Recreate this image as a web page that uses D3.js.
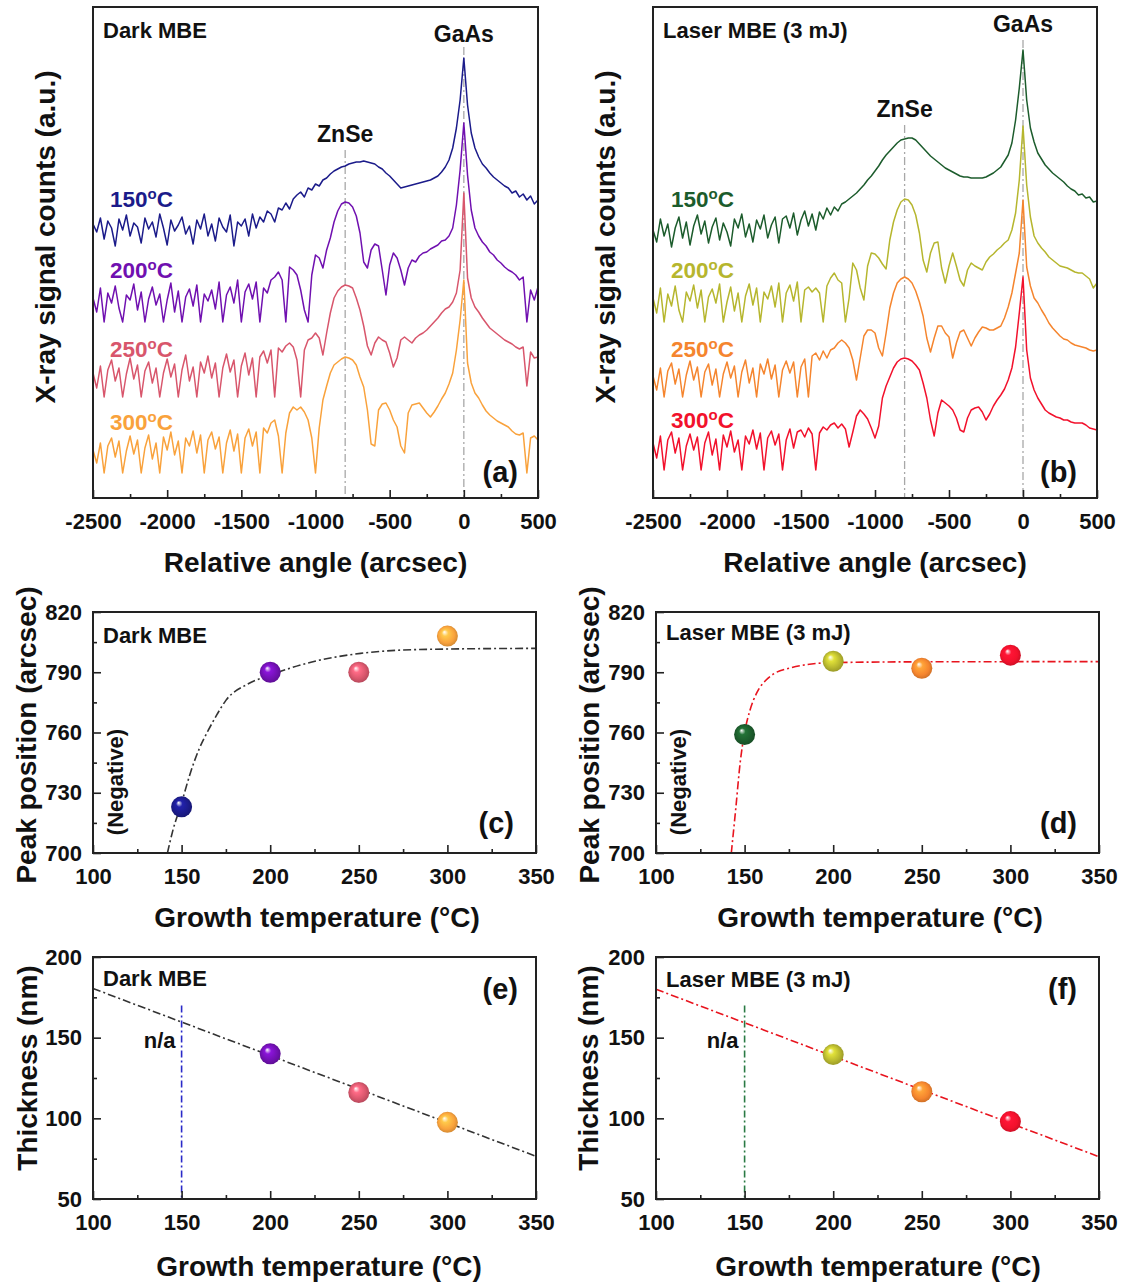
<!DOCTYPE html>
<html>
<head>
<meta charset="utf-8">
<script src="https://cdn.jsdelivr.net/npm/d3@7"></script>
<style>
  body { margin: 0; background: #fff; }
  svg text { font-family: "Liberation Sans", Arial, sans-serif; font-weight: bold; }
</style>
</head>
<body>
<svg id="fig" width="1126" height="1284"></svg>
<script>
'use strict';

// ============================================================
//  XRD rocking curves (a,b), ZnSe peak position (c,d) and
//  film thickness (e,f) for dark vs laser-assisted MBE.
// ============================================================

// ── Data ────────────────────────────────────────────────────
// rocking curves sampled every 25 arcsec, -2500 … 500 (a.u., offset stacked)
const ANGLE_GRID = d3.range(-2500, 501, 25);
const ANGLE_TICKS = [-2500, -2000, -1500, -1000, -500, 0, 500];
const ANGLE_MINOR = [-2250, -1750, -1250, -750, -250, 250];
const ZNSE_ANGLE = -800;
const GAAS_ANGLE = 0;

const TEMP_LABELS = ['150', '200', '250', '300'];

const DARK_150 = [
  274, 266, 280, 259, 277, 270, 252, 279,
  268, 283, 262, 275, 271, 255, 280, 269,
  276, 261, 284, 270, 253, 278, 267, 273,
  281, 264, 272, 254, 278, 269, 284, 262,
  274, 257, 280, 271, 266, 283, 252, 276,
  272, 279, 262, 284, 270, 281, 276, 287,
  284, 276, 290, 288, 295, 289, 299, 303,
  306, 301, 310, 308, 314, 312, 318, 320,
  324, 327, 329, 331, 332, 334, 335, 336,
  336, 337, 336, 335, 334, 331, 329, 325,
  322, 318, 314, 310, 311, 312, 313, 314,
  315, 316, 317, 318, 320, 322, 326, 331,
  338, 350, 370, 398, 440, 393, 365, 350,
  341, 334, 330, 325, 321, 318, 315, 312,
  310, 305, 307, 301, 304, 298, 302, 294,
  298
];
const DARK_200 = [
  200, 186, 210, 176, 205, 195, 212, 190,
  176, 203, 198, 214, 188, 206, 176, 199,
  211, 193, 204, 176, 198, 215, 186, 207,
  176, 201, 209, 192, 213, 176, 204, 197,
  208, 189, 216, 176, 203, 211, 195, 218,
  176, 206, 214, 199, 216, 176, 210, 205,
  218, 221, 226, 218, 176, 231, 228, 223,
  208, 188, 176, 223, 243, 240, 230, 248,
  260, 276, 287, 294, 296, 295, 291, 282,
  265, 236, 230, 248, 254, 252, 228, 203,
  233, 245, 240, 228, 213, 230, 238, 236,
  242, 245, 246, 249, 251, 253, 257, 258,
  262, 270, 293, 328, 375, 323, 288, 270,
  262, 256, 252, 246, 243, 238, 235, 231,
  228, 226, 223, 218, 221, 176, 208, 198,
  211
];
const DARK_250 = [
  125, 110, 132, 101, 128, 138, 117, 130,
  101, 124, 140, 119, 133, 101, 127, 136,
  115, 130, 101, 125, 139, 121, 134, 101,
  128, 143, 117, 131, 101, 136, 125, 142,
  120, 135, 101, 130, 144, 126, 138, 101,
  132, 145, 123, 140, 101, 141, 147, 135,
  148, 101, 150, 146, 152, 155, 151, 138,
  101, 148, 158, 160, 165, 160, 143, 165,
  185, 200, 207, 211, 213, 212, 210, 200,
  188, 172, 152, 143, 155, 161, 158, 156,
  145, 131, 140, 158, 161, 158, 155, 160,
  163, 165, 168, 172, 176, 180, 185, 189,
  191, 196, 205, 228, 305, 220, 200, 191,
  186, 180, 175, 170, 167, 164, 161, 158,
  156, 154, 151, 149, 151, 112, 146, 140,
  141
];
const DARK_300 = [
  48, 35, 55, 25, 52, 60, 41, 57,
  25, 47, 62, 44, 58, 25, 50, 63,
  39, 55, 25, 61, 48, 66, 43, 57,
  25, 60, 52, 67, 45, 63, 25, 58,
  66, 49, 61, 25, 55, 68, 47, 64,
  25, 60, 69, 52, 66, 25, 70, 65,
  75, 78, 62, 25, 65, 85, 91, 88,
  91, 86, 78, 60, 25, 70, 98, 112,
  125, 133, 136, 139, 141, 140, 138, 133,
  121, 111, 88, 54, 52, 88, 94, 95,
  88, 78, 71, 52, 45, 85, 93, 94,
  95, 90, 85, 81, 86, 92, 99, 105,
  114, 125, 148, 178, 218, 135, 115, 105,
  100, 93, 87, 83, 80, 77, 75, 73,
  71, 67, 64, 63, 65, 25, 60, 62,
  58
];

const LASER_150 = [
  268, 256, 279, 262, 274, 251, 270, 281,
  260, 276, 253, 272, 283, 264, 277, 255,
  271, 280, 258, 275, 266, 252, 279, 270,
  284, 261, 274, 256, 278, 269, 283, 260,
  273, 281, 255, 279, 282, 270, 285, 263,
  278, 287, 272, 284, 268, 286, 279, 290,
  283, 291, 287, 294, 296, 299, 302, 305,
  309, 313, 318, 322, 327, 332, 338, 343,
  347, 351, 355, 358, 359, 360, 360, 358,
  354, 350, 346, 342, 339, 336, 333, 330,
  328, 326, 324, 322, 321, 321, 320, 320,
  320, 320, 321, 323, 325, 328, 331, 337,
  343, 355, 378, 410, 448, 398, 370, 356,
  345, 339, 333, 329, 325, 322, 319, 316,
  312, 309, 307, 303, 304, 300, 301, 296,
  297
];
const LASER_200 = [
  200, 185, 210, 176, 204, 192, 212, 188,
  176, 206, 197, 213, 190, 208, 176, 201,
  209, 195, 214, 176, 196, 211, 187, 205,
  176, 202, 214, 193, 210, 176, 206, 199,
  212, 191, 215, 176, 205, 213, 197, 216,
  176, 208, 211, 206, 210, 205, 176, 212,
  220, 225, 218, 215, 176, 200, 235, 228,
  210, 198, 232, 245, 244, 240, 234, 229,
  258, 276, 288, 296, 299, 298, 293, 283,
  265, 238, 226, 245, 255, 256, 230, 215,
  232, 245, 232, 218, 212, 228, 235, 232,
  230, 228, 236, 241, 244, 248, 251, 255,
  258, 268, 285, 318, 372, 313, 281, 262,
  255, 250, 246, 241, 238, 235, 232, 231,
  230, 228, 226, 225, 225, 222, 219, 210,
  215
];
const LASER_250 = [
  122, 108, 130, 101, 127, 135, 114, 129,
  101, 123, 137, 118, 131, 101, 126, 134,
  113, 129, 101, 124, 136, 120, 132, 101,
  126, 138, 115, 130, 101, 134, 124, 139,
  119, 133, 101, 128, 137, 125, 136, 101,
  131, 139, 101, 142, 145, 138, 147, 140,
  148, 150, 155, 158, 155, 150, 138, 118,
  140, 162, 168, 168, 165, 150, 142, 165,
  190, 205, 215, 219, 221, 219, 215, 207,
  196, 182, 160, 146, 160, 172, 172, 165,
  161, 140, 155, 166, 168, 160, 152, 160,
  166, 171, 170, 168, 168, 170, 172, 180,
  191, 205, 225, 245, 298, 231, 212, 200,
  195, 188, 182, 175, 170, 166, 162, 159,
  158, 155, 153, 152, 151, 150, 148, 147,
  148
];
const LASER_300 = [
  55, 40, 62, 28, 58, 66, 45, 60,
  28, 52, 64, 48, 61, 28, 55, 66,
  43, 59, 28, 63, 51, 67, 46, 58,
  28, 62, 54, 68, 49, 65, 28, 60,
  67, 53, 64, 28, 58, 69, 50, 66,
  68, 61, 70, 64, 28, 65, 71, 68,
  73, 75, 70, 74, 69, 51, 66, 82,
  88, 84, 79, 70, 60, 72, 100, 112,
  121, 130, 136, 139, 140, 139, 137, 133,
  128, 115, 100, 78, 62, 85, 98, 95,
  92, 88, 80, 68, 66, 80, 88, 90,
  91, 86, 78, 84, 92, 98, 103, 109,
  118, 130, 151, 185, 221, 148, 120, 108,
  100, 94, 88, 85, 83, 81, 80, 78,
  78, 76, 75, 75, 75, 73, 70, 69,
  68
];

// peak position (negative, arcsec) vs growth temperature
const TEMPS = [150, 200, 250, 300];
const DARK_PEAK = [723, 790, 790, 808];
const LASER_PEAK = [759, 795.5, 792, 798.5];
const DARK_FIT_T = [142, 145, 150, 155, 160, 165, 170, 175, 187, 200, 223, 251, 288, 350];
const DARK_FIT_P = [700, 711, 725, 740, 752, 761, 769, 776, 784, 788.6, 795, 799.4, 801.4, 801.9];
const LASER_FIT_T = [142.5, 145, 147.5, 150, 153, 157, 162, 167, 175, 185, 200, 250, 350];
const LASER_FIT_P = [700, 722, 745, 760, 771, 780, 786, 789.5, 792, 793.8, 794.8, 795.2, 795.3];

// thickness (nm) vs growth temperature; 150 °C is n/a
const THICK_TEMPS = [200, 250, 300];
const DARK_THICK = [140, 116, 97.5];
const LASER_THICK = [139.5, 116.5, 98];
const THICK_FIT_T = [100, 350];
const DARK_THICK_FIT = [180.5, 76.5];
const LASER_THICK_FIT = [180, 76.2];
const NA_TEMP = 150;
const NA_TOP = 170;

// ── Colours ────────────────────────────────────────────────
const DARK_COLOURS = ['#1b1b8a', '#7010b0', '#d8566c', '#f9a23c'];
const LASER_COLOURS = ['#1c5c2c', '#b6b62e', '#f5852e', '#f2112c'];
const FRAME = '#222';

const svg = d3.select('#fig');
svg.append('rect').attr('width', 1126).attr('height', 1284).attr('fill', '#fff');
const defs = svg.append('defs');

// ── Helpers ────────────────────────────────────────────────
function styleAxis(g) {
  g.select('.domain').remove();
  g.selectAll('.tick line').attr('stroke', FRAME).attr('stroke-width', 1.6);
  g.selectAll('.tick text')
    .attr('fill', '#111')
    .attr('font-size', 22)
    .attr('font-family', '"Liberation Sans", Arial, sans-serif')
    .attr('font-weight', 'bold');
}

function drawAxes(g, x, y, box, xt, xm, yt, ym) {
  g.append('g').attr('transform', `translate(0,${box.y1})`)
    .call(d3.axisBottom(x).tickValues(xm).tickSize(-4).tickFormat(''))
    .call(styleAxis);
  g.append('g').attr('transform', `translate(0,${box.y1})`)
    .call(d3.axisBottom(x).tickValues(xt).tickSize(-8).tickPadding(15).tickFormat(d => String(d)))
    .call(styleAxis);
  if (yt) {
    g.append('g').attr('transform', `translate(${box.x0},0)`)
      .call(d3.axisLeft(y).tickValues(ym).tickSize(-4).tickFormat(''))
      .call(styleAxis);
    g.append('g').attr('transform', `translate(${box.x0},0)`)
      .call(d3.axisLeft(y).tickValues(yt).tickSize(-8).tickPadding(11).tickFormat(d => String(d)))
      .call(styleAxis);
  }
  g.append('rect')
    .attr('x', box.x0).attr('y', box.y0)
    .attr('width', box.x1 - box.x0).attr('height', box.y1 - box.y0)
    .attr('fill', 'none').attr('stroke', FRAME).attr('stroke-width', 2);
}

function label(g, x, y, txt, opts = {}) {
  return g.append('text')
    .attr('x', x).attr('y', y)
    .attr('font-size', opts.size || 22)
    .attr('fill', opts.fill || '#111')
    .attr('text-anchor', opts.anchor || 'start')
    .text(txt);
}

function vLabel(g, x, y, txt, size) {
  g.append('text')
    .attr('transform', `translate(${x},${y}) rotate(-90)`)
    .attr('text-anchor', 'middle')
    .attr('dy', '0.35em')
    .attr('font-size', size)
    .attr('fill', '#111')
    .text(txt);
}

function tempLabel(g, x, y, t, colour) {
  const tx = g.append('text').attr('x', x).attr('y', y)
    .attr('font-size', 22.5).attr('fill', colour);
  tx.append('tspan').text(t);
  tx.append('tspan').attr('font-size', 15).attr('dy', -8).text('o');
  tx.append('tspan').attr('dy', 8).text('C');
}

// ── XRD panels (a), (b) ────────────────────────────────────
function drawXRD(p) {
  const g = svg.append('g');
  const box = p.box;
  const x = d3.scaleLinear().domain([-2500, 500]).range([box.x0, box.x1]);
  const y = d3.scaleLinear().domain([0, 490]).range([box.y1, box.y1 - 490]);

  const clipId = 'clip-' + p.id;
  defs.append('clipPath').attr('id', clipId).append('rect')
    .attr('x', box.x0).attr('y', box.y0)
    .attr('width', box.x1 - box.x0).attr('height', box.y1 - box.y0);

  // peak reference lines
  [[ZNSE_ANGLE, p.znseTop], [GAAS_ANGLE, p.gaasTop]].forEach(([a, top]) => {
    g.append('line')
      .attr('x1', x(a)).attr('x2', x(a))
      .attr('y1', top).attr('y2', box.y1)
      .attr('stroke', '#a8a8a8').attr('stroke-width', 1.3)
      .attr('stroke-dasharray', '8,3,2,3');
  });

  const line = d3.line().x(d => x(d[0])).y(d => y(d[1]));
  const curves = g.append('g').attr('clip-path', `url(#${clipId})`);
  for (let i = p.series.length - 1; i >= 0; i--) {
    const pts = ANGLE_GRID.map((a, k) => [a, p.series[i][k]]);
    curves.append('path')
      .attr('d', line(pts))
      .attr('fill', 'none')
      .attr('stroke', p.colours[i])
      .attr('stroke-width', 1.5)
      .attr('stroke-linejoin', 'round');
  }

  p.series.forEach((s, i) => tempLabel(g, p.tempX, p.tempY[i], TEMP_LABELS[i], p.colours[i]));

  label(g, box.x0 + 10, 38, p.title);
  label(g, x(GAAS_ANGLE), p.gaasY, 'GaAs', { size: 23, anchor: 'middle' });
  label(g, x(ZNSE_ANGLE), p.znseY, 'ZnSe', { size: 23, anchor: 'middle' });
  label(g, box.x1 - 20, 482, p.tag, { size: 29, anchor: 'end' });

  drawAxes(g, x, y, box, ANGLE_TICKS, ANGLE_MINOR, null, null);

  label(g, (box.x0 + box.x1) / 2, 572, 'Relative angle (arcsec)', { size: 28, anchor: 'middle' });
  vLabel(g, p.yTitleX, 237, 'X-ray signal counts (a.u.)', 28);
}

// ── Sphere gradients ───────────────────────────────────────
function sphere(id, colour) {
  const c = d3.color(colour);
  const gr = defs.append('radialGradient').attr('id', id)
    .attr('cx', '50%').attr('cy', '50%').attr('r', '55%')
    .attr('fx', '35%').attr('fy', '30%');
  gr.append('stop').attr('offset', '0%').attr('stop-color', '#ffffff');
  gr.append('stop').attr('offset', '28%').attr('stop-color', c.brighter(0.6).formatHex());
  gr.append('stop').attr('offset', '70%').attr('stop-color', c.formatHex());
  gr.append('stop').attr('offset', '100%').attr('stop-color', c.darker(0.6).formatHex());
  return `url(#${id})`;
}

const TEMP_TICKS = [100, 150, 200, 250, 300, 350];
const TEMP_MINOR = [125, 175, 225, 275, 325];

function drawScatter(p) {
  const g = svg.append('g');
  const box = p.box;
  const x = d3.scaleLinear().domain([100, 350]).range([box.x0, box.x1]);
  const y = d3.scaleLinear().domain(p.yDomain).range([box.y1, box.y0]);

  if (p.na) {
    g.append('line')
      .attr('x1', x(NA_TEMP)).attr('x2', x(NA_TEMP))
      .attr('y1', y(NA_TOP)).attr('y2', box.y1)
      .attr('stroke', p.na.colour).attr('stroke-width', 1.6)
      .attr('stroke-dasharray', '7,3,2,3');
    label(g, x(NA_TEMP) - 6, p.na.y, 'n/a', { anchor: 'end' });
  }

  const line = d3.line().x(d => x(d[0])).y(d => y(d[1])).curve(d3.curveMonotoneX);
  g.append('path')
    .attr('d', line(p.fitT.map((t, k) => [t, p.fitV[k]])))
    .attr('fill', 'none')
    .attr('stroke', p.fitColour)
    .attr('stroke-width', 1.6)
    .attr('stroke-dasharray', '8,3,2,3');

  p.temps.forEach((t, i) => {
    g.append('circle')
      .attr('cx', x(t)).attr('cy', y(p.values[i])).attr('r', 10.5)
      .attr('fill', sphere(`${p.id}-s${i}`, p.colours[i]));
  });

  label(g, box.x0 + 10, p.titleY, p.title);
  label(g, box.x1 - p.tagInset, p.tagY, p.tag, { size: 29, anchor: 'end' });
  if (p.negative) vLabel(g, box.x0 + 22, 782, '(Negative)', 22);

  drawAxes(g, x, y, box, TEMP_TICKS, TEMP_MINOR, p.yTicks, p.yMinor);

  label(g, p.xTitleX, p.xTitleY, 'Growth temperature (\u00B0C)', { size: 28, anchor: 'middle' });
  vLabel(g, p.yTitleX, p.yTitleY, p.yTitle, 28);
}

// ── Build ──────────────────────────────────────────────────
drawXRD({
  id: 'a', box: { x0: 93, x1: 538, y0: 7, y1: 498 },
  series: [DARK_150, DARK_200, DARK_250, DARK_300], colours: DARK_COLOURS,
  title: 'Dark MBE', tag: '(a)',
  gaasY: 42, znseY: 142, gaasTop: 47, znseTop: 150,
  tempX: 110, tempY: [207, 278, 357, 430], yTitleX: 45
});
drawXRD({
  id: 'b', box: { x0: 653, x1: 1097, y0: 7, y1: 498 },
  series: [LASER_150, LASER_200, LASER_250, LASER_300], colours: LASER_COLOURS,
  title: 'Laser MBE (3 mJ)', tag: '(b)',
  gaasY: 32, znseY: 117, gaasTop: 40, znseTop: 125,
  tempX: 671, tempY: [207, 278, 357, 428], yTitleX: 605
});

const PEAK_TICKS = [700, 730, 760, 790, 820];
const PEAK_MINOR = [715, 745, 775, 805];
const THICK_TICKS = [50, 100, 150, 200];
const THICK_MINOR = [75, 125, 175];

drawScatter({
  id: 'c', box: { x0: 93, x1: 536, y0: 612, y1: 853 },
  yDomain: [700, 820], yTicks: PEAK_TICKS, yMinor: PEAK_MINOR,
  temps: TEMPS, values: DARK_PEAK, colours: DARK_COLOURS,
  fitT: DARK_FIT_T, fitV: DARK_FIT_P, fitColour: '#333',
  title: 'Dark MBE', titleY: 643, tag: '(c)', tagInset: 22, tagY: 833,
  negative: true,
  xTitleX: 317, xTitleY: 927, yTitleX: 26, yTitleY: 735, yTitle: 'Peak position (arcsec)'
});
drawScatter({
  id: 'd', box: { x0: 656, x1: 1099, y0: 612, y1: 853 },
  yDomain: [700, 820], yTicks: PEAK_TICKS, yMinor: PEAK_MINOR,
  temps: TEMPS, values: LASER_PEAK, colours: LASER_COLOURS,
  fitT: LASER_FIT_T, fitV: LASER_FIT_P, fitColour: '#e8141e',
  title: 'Laser MBE (3 mJ)', titleY: 640, tag: '(d)', tagInset: 22, tagY: 833,
  negative: true,
  xTitleX: 880, xTitleY: 927, yTitleX: 589, yTitleY: 735, yTitle: 'Peak position (arcsec)'
});
drawScatter({
  id: 'e', box: { x0: 93, x1: 536, y0: 957, y1: 1199 },
  yDomain: [50, 200], yTicks: THICK_TICKS, yMinor: THICK_MINOR,
  temps: THICK_TEMPS, values: DARK_THICK, colours: DARK_COLOURS.slice(1),
  fitT: THICK_FIT_T, fitV: DARK_THICK_FIT, fitColour: '#333',
  na: { colour: '#2a2ac8', y: 1048 },
  title: 'Dark MBE', titleY: 986, tag: '(e)', tagInset: 18, tagY: 999,
  xTitleX: 319, xTitleY: 1276, yTitleX: 27, yTitleY: 1068, yTitle: 'Thickness (nm)'
});
drawScatter({
  id: 'f', box: { x0: 656, x1: 1099, y0: 957, y1: 1199 },
  yDomain: [50, 200], yTicks: THICK_TICKS, yMinor: THICK_MINOR,
  temps: THICK_TEMPS, values: LASER_THICK, colours: LASER_COLOURS.slice(1),
  fitT: THICK_FIT_T, fitV: LASER_THICK_FIT, fitColour: '#e8141e',
  na: { colour: '#2a7a44', y: 1048 },
  title: 'Laser MBE (3 mJ)', titleY: 987, tag: '(f)', tagInset: 22, tagY: 999,
  xTitleX: 878, xTitleY: 1276, yTitleX: 588, yTitleY: 1068, yTitle: 'Thickness (nm)'
});
</script>
</body>
</html>
